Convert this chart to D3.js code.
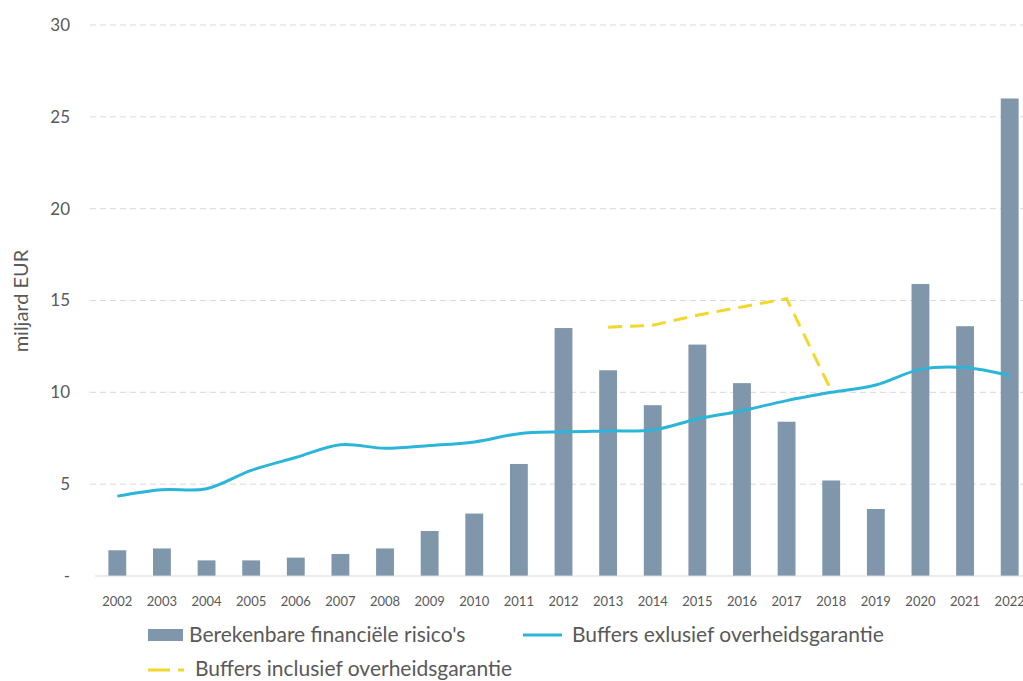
<!DOCTYPE html>
<html>
<head>
<meta charset="utf-8">
<script src="https://cdn.jsdelivr.net/npm/d3@7"></script>
<style>
  body { margin: 0; background: #fff; }
  svg { display: block; font-family: Lato, "Open Sans", sans-serif; }
</style>
</head>
<body>
<svg id="chart" width="1023" height="681"></svg>
<script>
const years = ["2002", "2003", "2004", "2005", "2006", "2007", "2008", "2009", "2010", "2011", "2012",
    "2013", "2014", "2015", "2016", "2017", "2018", "2019", "2020", "2021", "2022"];
const risks = [1.4, 1.5, 0.85, 0.85, 1.0, 1.2, 1.5, 2.45, 3.4, 6.1, 13.5,
    11.2, 9.3, 12.6, 10.5, 8.4, 5.2, 3.65, 15.9, 13.6, 26.0];
const buffersExcl = [4.35, 4.7, 4.75, 5.75, 6.45, 7.15, 6.95, 7.1, 7.3, 7.75, 7.85,
    7.9, 7.95, 8.55, 9.0, 9.55, 10.0, 10.4, 11.25, 11.35, 10.9];
const buffersInclYears = ["2013", "2014", "2015", "2016", "2017", "2018"];
const buffersIncl = [13.55, 13.65, 14.2, 14.65, 15.1, 10.1];
const yTicks = [0, 5, 10, 15, 20, 25, 30];

const svg = d3.select("#chart");
const textColor = "#595959";

// x band: the plot runs past the right edge of the picture, as in the original
const x = d3.scaleBand()
    .domain(years)
    .range([95, 1032])
    .paddingInner(0.6)
    .paddingOuter(0.3);
const y = d3.scaleLinear()
    .domain([0, 30])
    .range([576, 25]);

// gridlines
svg.append("g")
    .selectAll("line")
    .data(yTicks.filter(d => d > 0))
    .enter()
    .append("line")
    .attr("x1", 90)
    .attr("x2", 1023)
    .attr("y1", d => y(d))
    .attr("y2", d => y(d))
    .attr("stroke", "#d9d9d9")
    .attr("stroke-width", 1)
    .attr("stroke-dasharray", "6,4");

// y tick labels
svg.append("g")
    .selectAll("text")
    .data(yTicks)
    .enter()
    .append("text")
    .attr("x", 70)
    .attr("y", d => y(d))
    .attr("dy", "0.35em")
    .attr("text-anchor", "end")
    .style("font-size", "17px")
    .style("fill", textColor)
    .text(d => d === 0 ? "-" : d);

svg.append("text")
    .attr("transform", "translate(28,301) rotate(-90)")
    .attr("text-anchor", "middle")
    .style("font-size", "20px")
    .style("fill", textColor)
    .text("miljard EUR");

// bars
svg.append("g")
    .selectAll("rect")
    .data(risks)
    .enter()
    .append("rect")
    .attr("x", (d, i) => x(years[i]))
    .attr("width", x.bandwidth())
    .attr("y", d => y(d))
    .attr("height", d => y(0) - y(d))
    .attr("fill", "#7f96ab");

// baseline
svg.append("line")
    .attr("x1", 95)
    .attr("x2", 1023)
    .attr("y1", y(0))
    .attr("y2", y(0))
    .attr("stroke", "#d9d9d9");

// x labels
svg.append("g")
    .selectAll("text")
    .data(years)
    .enter()
    .append("text")
    .attr("x", d => x(d) + x.bandwidth() / 2)
    .attr("y", 606)
    .attr("text-anchor", "middle")
    .style("font-size", "13px")
    .style("fill", textColor)
    .text(d => d);

const cx = d => x(d) + x.bandwidth() / 2;

// buffers exclusief (smoothed)
svg.append("path")
    .datum(buffersExcl)
    .attr("d", d3.line()
        .x((d, i) => cx(years[i]))
        .y(d => y(d))
        .curve(d3.curveCatmullRom.alpha(0.5)))
    .attr("fill", "none")
    .attr("stroke", "#2bb5d8")
    .attr("stroke-width", 3);

// buffers inclusief (dashed)
svg.append("path")
    .datum(buffersIncl)
    .attr("d", d3.line()
        .x((d, i) => cx(buffersInclYears[i]))
        .y(d => y(d)))
    .attr("fill", "none")
    .attr("stroke", "#f2d82c")
    .attr("stroke-width", 3)
    .attr("stroke-dasharray", "14,8");

// legend
const legend = svg.append("g").style("font-size", "21px").style("fill", textColor);
legend.append("rect")
    .attr("x", 148).attr("y", 629)
    .attr("width", 35).attr("height", 12)
    .attr("fill", "#7f96ab");
legend.append("text")
    .attr("x", 189).attr("y", 642)
    .text("Berekenbare financiële risico's");
legend.append("line")
    .attr("x1", 523).attr("x2", 562)
    .attr("y1", 635).attr("y2", 635)
    .attr("stroke", "#2bb5d8").attr("stroke-width", 3);
legend.append("text")
    .attr("x", 572).attr("y", 642)
    .text("Buffers exlusief overheidsgarantie");
legend.append("line")
    .attr("x1", 148).attr("x2", 184)
    .attr("y1", 670).attr("y2", 670)
    .attr("stroke", "#f2d82c").attr("stroke-width", 3)
    .attr("stroke-dasharray", "22,8");
legend.append("text")
    .attr("x", 195).attr("y", 676)
    .text("Buffers inclusief overheidsgarantie");
</script>
</body>
</html>
